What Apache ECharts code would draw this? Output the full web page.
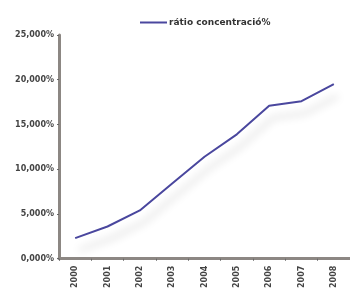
<!DOCTYPE html>
<html>
<head>
<meta charset="utf-8">
<script src="https://cdn.jsdelivr.net/npm/echarts@6/dist/echarts.min.js"></script>
<style>
  html, body { margin: 0; padding: 0; background: #fff; }
  #main { width: 350px; height: 291px; }
</style>
</head>
<body>
<div id="main"></div>
<script>
var years = ['2000', '2001', '2002', '2003', '2004', '2005', '2006', '2007', '2008'];
var ratio = [2.3, 3.6, 5.4, 8.4, 11.4, 13.9, 17.1, 17.6, 19.5];
var seriesName = 'rátio concentració%';

var chartDom = document.getElementById('main');
var myChart = echarts.init(chartDom);

var option = {
  animation: false,
  legend: {
    top: 13,
    left: 135,
    icon: 'rect',
    itemWidth: 27,
    itemHeight: 2,
    itemGap: 2,
    textStyle: { fontFamily: 'DejaVu Sans', fontSize: 9, color: '#333', fontWeight: 'bold', padding: [0, 0, 0, -3] },
    data: [seriesName]
  },
  grid: { left: 59, right: 0, top: 35, bottom: 30 },
  xAxis: {
    type: 'category',
    data: years,
    boundaryGap: true,
    axisLine: { lineStyle: { color: '#8c8783', width: 3 } },
    axisTick: { show: true, length: 2, lineStyle: { color: '#666' } },
    axisLabel: {
      rotate: 90,
      margin: 7,
      fontFamily: 'DejaVu Sans',
      fontSize: 8,
      fontWeight: 'bold',
      color: '#444'
    }
  },
  yAxis: {
    type: 'value',
    min: 0,
    max: 25,
    interval: 5,
    splitLine: { show: false },
    axisLine: { show: true, lineStyle: { color: '#8c8783', width: 3 } },
    axisTick: { show: true, length: 2, lineStyle: { color: '#666' } },
    axisLabel: {
      margin: 5,
      fontFamily: 'DejaVu Sans',
      fontSize: 8,
      fontWeight: 'bold',
      color: '#444',
      formatter: function (v) { return v.toFixed(3).replace('.', ',') + '%'; }
    }
  },
  series: [
    {
      name: seriesName,
      type: 'line',
      data: ratio,
      symbol: 'none',
      smooth: false,
      lineStyle: {
        color: '#4a479e',
        width: 2,
        shadowColor: 'rgba(0,0,0,0.22)',
        shadowBlur: 8,
        shadowOffsetX: 4,
        shadowOffsetY: 12
      },
      itemStyle: { color: '#4a479e' }
    }
  ]
};

option && myChart.setOption(option);
</script>
</body>
</html>
